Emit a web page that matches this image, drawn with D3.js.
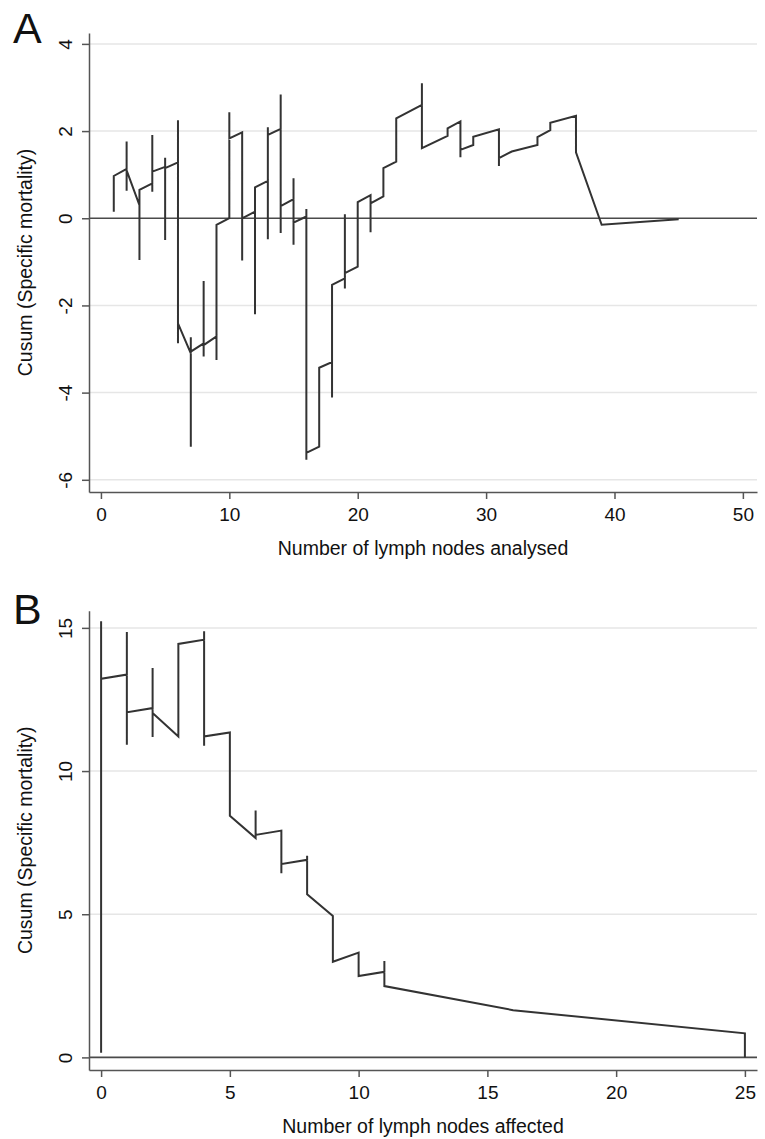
<!DOCTYPE html>
<meta charset="utf-8">
<script src="https://d3js.org/d3.v7.min.js"></script>
<style>
  body { margin: 0; background: #fff; }
  text { font-family: "Liberation Sans", Arial, sans-serif; fill: #111; }
</style>

<div id="main"></div>

<script>

// Panel A: cusum path vertices in plotting order (x = lymph nodes analysed)
var nodesA = [1, 1,
  2, 2, 2, 2,
  3, 3, 3,
  4, 4, 4, 4,
  5, 5, 5, 5,
  6, 6, 6, 6,
  7, 7, 7, 7,
  8, 8, 8, 8,
  9, 9, 9,
  10, 10, 10,
  11, 11, 11,
  12, 12, 12,
  13, 13, 13, 13,
  14, 14, 14, 14,
  15, 15, 15, 15,
  16, 16, 16, 16,
  17, 17,
  18, 18, 18,
  19, 19, 19, 19,
  20, 20,
  21, 21, 21,
  22, 22,
  23, 23,
  25, 25, 25,
  27, 27,
  28, 28, 28,
  29, 29,
  31, 31, 31,
  32,
  34, 34,
  35, 35,
  37, 37,
  39,
  45]
var cusumA = [0.15, 0.97,
  1.13, 1.76, 0.63, 1.10,
  0.30, -0.96, 0.65,
  0.80, 1.91, 0.61, 1.07,
  1.18, 1.39, -0.50, 1.15,
  1.28, 2.25, -2.87, -2.41,
  -3.10, -2.73, -5.24, -3.06,
  -2.87, -1.44, -3.17, -2.91,
  -2.71, -3.25, -0.15,
  0.00, 2.43, 1.83,
  1.97, -0.97, 0.00,
  0.15, -2.20, 0.71,
  0.86, -0.48, 2.09, 1.91,
  2.05, 2.84, -0.34, 0.28,
  0.44, 0.92, -0.61, -0.10,
  0.04, 0.21, -5.54, -5.38,
  -5.24, -3.43,
  -3.30, -4.11, -1.53,
  -1.38, -1.61, 0.09, -1.26,
  -1.11, 0.37,
  0.53, -0.32, 0.34,
  0.50, 1.15,
  1.30, 2.29,
  2.60, 3.10, 1.61,
  1.89, 2.06,
  2.22, 1.40, 1.57,
  1.68, 1.87,
  2.04, 1.20, 1.38,
  1.53,
  1.68, 1.86,
  2.02, 2.19,
  2.35, 1.51,
  -0.15,
  -0.02]
var xTicksA = [0, 10, 20, 30, 40, 50]
var yTicksA = [-6, -4, -2, 0, 2, 4]

// Panel B: cusum path vertices (x = lymph nodes affected)
var nodesB = [0, 0, 0,
  1, 1, 1, 1,
  2, 2, 2, 2,
  3, 3,
  4, 4, 4, 4,
  5, 5,
  6, 6, 6,
  7, 7, 7,
  8, 8, 8,
  9, 9,
  10, 10,
  11, 11, 11,
  16,
  25, 25]
var cusumB = [0.16, 15.23, 13.22,
  13.37, 14.86, 10.92, 12.05,
  12.20, 13.60, 11.19, 12.03,
  11.21, 14.44,
  14.59, 14.88, 10.88, 11.21,
  11.35, 8.44,
  7.66, 8.62, 7.77,
  7.92, 6.43, 6.75,
  6.90, 7.04, 5.70,
  4.94, 3.34,
  3.66, 2.84,
  2.99, 3.37, 2.49,
  1.65,
  0.84, 0.00]
var xTicksB = [0, 5, 10, 15, 20, 25]
var yTicksB = [0, 5, 10, 15]

var width = 765
var height = 1139

var svg = d3.select("#main")
  .append("svg")
    .attr("width", width)
    .attr("height", height)

svg.append("rect").attr("width", width).attr("height", height).attr("fill", "#fff")

// plain hyphen for negatives, as in the original
var fmt = d => String(d)

function panel(opt) {
  var x = d3.scaleLinear().domain(opt.xDomain).range([89, 757])
  var y = d3.scaleLinear().domain(opt.yDomain).range([opt.bottom, opt.top])
  var g = svg.append("g")

  // light gridlines
  g.selectAll(".grid")
    .data(opt.yTicks.filter(d => d !== 0))
    .enter()
    .append("line")
      .attr("x1", 89).attr("x2", 757)
      .attr("y1", d => y(d)).attr("y2", d => y(d))
      .attr("stroke", "#e6e6e6")
      .attr("stroke-width", 1.5)

  // reference line at zero
  g.append("line")
    .attr("x1", 89).attr("x2", 757)
    .attr("y1", y(0)).attr("y2", y(0))
    .attr("stroke", "#4a4a4a")
    .attr("stroke-width", 1.6)

  var pts = opt.xs.map((d, i) => [d, opt.ys[i]])
  var line = d3.line().x(d => x(d[0])).y(d => y(d[1]))
  g.append("path")
    .datum(pts)
    .attr("d", line)
    .attr("fill", "none")
    .attr("stroke", "#333")
    .attr("stroke-width", 2)
    .attr("stroke-linejoin", "miter")

  // y axis, labels turned sideways like the original
  var ya = g.append("g")
    .attr("transform", "translate(89,0)")
    .call(d3.axisLeft(y).tickValues(opt.yTicks).tickFormat(fmt).tickSize(7).tickSizeOuter(0))
  ya.selectAll("text")
    .attr("x", 0).attr("y", -24).attr("dy", "0.35em")
    .attr("transform", "rotate(-90)")
    .attr("text-anchor", "middle")
    .style("font-size", "19px")
  ya.selectAll("path, line").attr("stroke", "#555").attr("stroke-width", 1.5)

  var xa = g.append("g")
    .attr("transform", "translate(0," + opt.bottom + ")")
    .call(d3.axisBottom(x).tickValues(opt.xTicks).tickFormat(fmt).tickSize(7).tickSizeOuter(0).tickPadding(9))
  xa.selectAll("text").style("font-size", "19px")
  xa.selectAll("path, line").attr("stroke", "#555").attr("stroke-width", 1.5)
  g.selectAll(".domain").attr("fill", "none")
  g.selectAll(".tick text").attr("fill", "#111").attr("font-family", "Liberation Sans, Arial, sans-serif")

  g.append("text")
    .attr("transform", "translate(25," + ((opt.top + opt.bottom) / 2) + ") rotate(-90)")
    .attr("text-anchor", "middle")
    .attr("dy", "0.35em")
    .style("font-size", "19.5px")
    .text("Cusum (Specific mortality)")

  g.append("text")
    .attr("x", 423)
    .attr("y", opt.bottom + 56)
    .attr("text-anchor", "middle")
    .attr("dy", "0.35em")
    .style("font-size", "19.5px")
    .text(opt.xTitle)

  g.append("text")
    .attr("x", 13)
    .attr("y", opt.top + (opt.letter === "A" ? 10 : 13))
    .style("font-size", "43px")
    .text(opt.letter)
}

panel({
  letter: "A",
  xs: nodesA, ys: cusumA,
  xDomain: [-0.93, 51.1], yDomain: [-6.28, 4.25],
  top: 33, bottom: 492,
  xTicks: xTicksA, yTicks: yTicksA,
  xTitle: "Number of lymph nodes analysed"
})

panel({
  letter: "B",
  xs: nodesB, ys: cusumB,
  xDomain: [-0.47, 25.47], yDomain: [-0.44, 15.6],
  top: 610.7, bottom: 1070,
  xTicks: xTicksB, yTicks: yTicksB,
  xTitle: "Number of lymph nodes affected"
})

</script>
